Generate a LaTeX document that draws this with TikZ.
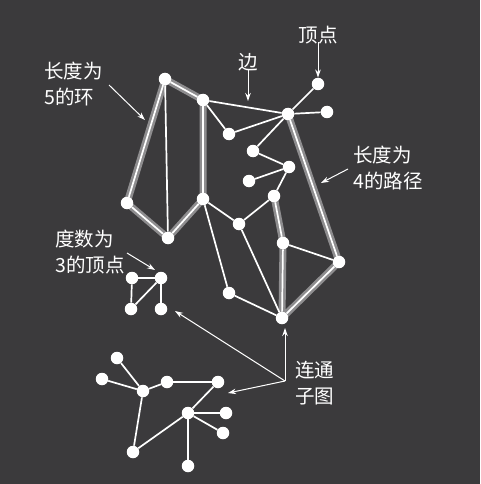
\documentclass[tikz,border=0pt]{standalone}
\usepackage{fontspec}
\newfontfamily\cjk{Noto Sans CJK SC}
\usepackage{tikz}
\usetikzlibrary{arrows.meta}
\definecolor{bg}{HTML}{3B3A3C}
\definecolor{hl}{HTML}{8E8D8F}
\pgfdeclarelayer{back}
\pgfdeclarelayer{wires}
\pgfsetlayers{back,wires,main}
\tikzset{
    x=1pt,
    y=-1pt,
    vertex/.style = {
        shape=circle,
        fill=white,
        minimum size=12.5pt,
        inner sep=0pt
    },
    edge/.style = {
        draw=white,
        line width=1.7pt
    },
    glow/.style = {
        draw=hl,
        line width=7pt,
        line cap=round,
        line join=round
    },
    caption/.style = {
        text=white,
        align=left,
        inner sep=0pt,
        font=\cjk\fontsize{19.5}{26}\selectfont
    },
    pointer/.style = {
        draw=white,
        line width=1pt,
        -{Stealth[length=8pt,width=5.5pt]}
    },
}
\begin{document}
\begin{tikzpicture}
                \begin{pgfonlayer}{back}
                \path[fill=bg] (0,0) rectangle (480,484);
                \end{pgfonlayer}

                % main graph
                \node[vertex] (a) at (165,79) {};
                \node[vertex] (b) at (203,100) {};
                \node[vertex] (c) at (288,114) {};
                \node[vertex] (d) at (318,84) {};
                \node[vertex] (e) at (327,112) {};
                \node[vertex] (f) at (229,134) {};
                \node[vertex] (g) at (253,151) {};
                \node[vertex] (h) at (289,167) {};
                \node[vertex] (i) at (249,181) {};
                \node[vertex] (j) at (274,196) {};
                \node[vertex] (k) at (127,203) {};
                \node[vertex] (l) at (203,199) {};
                \node[vertex] (m) at (168,238) {};
                \node[vertex] (n) at (239,224) {};
                \node[vertex] (o) at (283,243) {};
                \node[vertex] (p) at (339,262) {};
                \node[vertex] (q) at (229,293) {};
                \node[vertex] (r) at (282,318) {};

                % degree 3 example
                \node[vertex] (s1) at (132,278) {};
                \node[vertex] (s2) at (161,278) {};
                \node[vertex] (s3) at (131,309) {};
                \node[vertex] (s4) at (161,309) {};

                % connected subgraph
                \node[vertex] (t1) at (117,358) {};
                \node[vertex] (t2) at (102,379) {};
                \node[vertex] (t3) at (143,391) {};
                \node[vertex] (t4) at (167,382) {};
                \node[vertex] (t5) at (218,382) {};
                \node[vertex] (t6) at (188,413) {};
                \node[vertex] (t7) at (226,413) {};
                \node[vertex] (t8) at (223,433) {};
                \node[vertex] (t9) at (133,452) {};
                \node[vertex] (t10) at (188,466) {};

                \begin{pgfonlayer}{wires}
                % highlighted cycle and path
                \path[glow] (a.center) -- (b.center) -- (l.center) -- (m.center)
                -- (k.center) -- cycle;
                \path[glow] (c.center) -- (p.center) -- (r.center) -- (o.center)
                -- (j.center);

                \path[edge] (a) -- (b);
                \path[edge] (a) -- (k);
                \path[edge] (a) -- (m);
                \path[edge] (b) -- (l);
                \path[edge] (k) -- (m);
                \path[edge] (m) -- (l);
                \path[edge] (b) -- (c);
                \path[edge] (b) -- (f);
                \path[edge] (f) -- (c);
                \path[edge] (c) -- (d);
                \path[edge] (c) -- (e);
                \path[edge] (c) -- (g);
                \path[edge] (g) -- (h);
                \path[edge] (h) -- (i);
                \path[edge] (h) -- (j);
                \path[edge] (j) -- (n);
                \path[edge] (l) -- (n);
                \path[edge] (l) -- (q);
                \path[edge] (n) -- (r);
                \path[edge] (q) -- (r);
                \path[edge] (j) -- (o);
                \path[edge] (o) -- (r);
                \path[edge] (r) -- (p);
                \path[edge] (p) -- (c);
                \path[edge] (o) -- (p);

                \path[edge] (s1) -- (s2);
                \path[edge] (s1) -- (s3);
                \path[edge] (s2) -- (s3);
                \path[edge] (s2) -- (s4);

                \path[edge] (t1) -- (t3);
                \path[edge] (t2) -- (t3);
                \path[edge] (t3) -- (t4);
                \path[edge] (t4) -- (t5);
                \path[edge] (t5) -- (t6);
                \path[edge] (t6) -- (t7);
                \path[edge] (t6) -- (t8);
                \path[edge] (t6) -- (t10);
                \path[edge] (t6) -- (t9);
                \path[edge] (t3) -- (t9);
                \end{pgfonlayer}

                % labels
                \node[caption] (vtx) at (318,35) {顶点};
                \node[caption] (edg) at (248,62) {边};
                \node[caption, anchor=west] (cyc) at (44,84) {长度为\\5的环};
                \node[caption, anchor=west] (pth) at (353,168) {长度为\\4的路径};
                \node[caption, anchor=west] (deg) at (55,252) {度数为\\3的顶点};
                \node[caption, anchor=west] (sub) at (295,383) {连通\\子图};

                \coordinate (cyc tail) at (109,85);
                \coordinate (cyc tip) at (145,120);
                \coordinate (pth tail) at (348,169);
                \coordinate (pth tip) at (321,183);
                \coordinate (deg tail) at (127,253);
                \coordinate (deg tip) at (155,270);
                \coordinate (edg tip) at (248,101);
                \coordinate (sub root) at (285,381);
                \coordinate (sub up) at (285,328);
                \coordinate (sub left) at (175,311);
                \coordinate (sub down) at (228,393);

                \path[pointer] (vtx.south) ++(0,-2) -- (d.north);
                \path[pointer] (edg.south) ++(0,-2) -- (edg tip);
                \path[pointer] (cyc tail) -- (cyc tip);
                \path[pointer] (pth tail) -- (pth tip);
                \path[pointer] (deg tail) -- (deg tip);
                \path[pointer] (sub root) -- (sub up);
                \path[pointer] (sub root) -- (sub left);
                \path[pointer] (sub root) -- (sub down);
\end{tikzpicture}
\end{document}
